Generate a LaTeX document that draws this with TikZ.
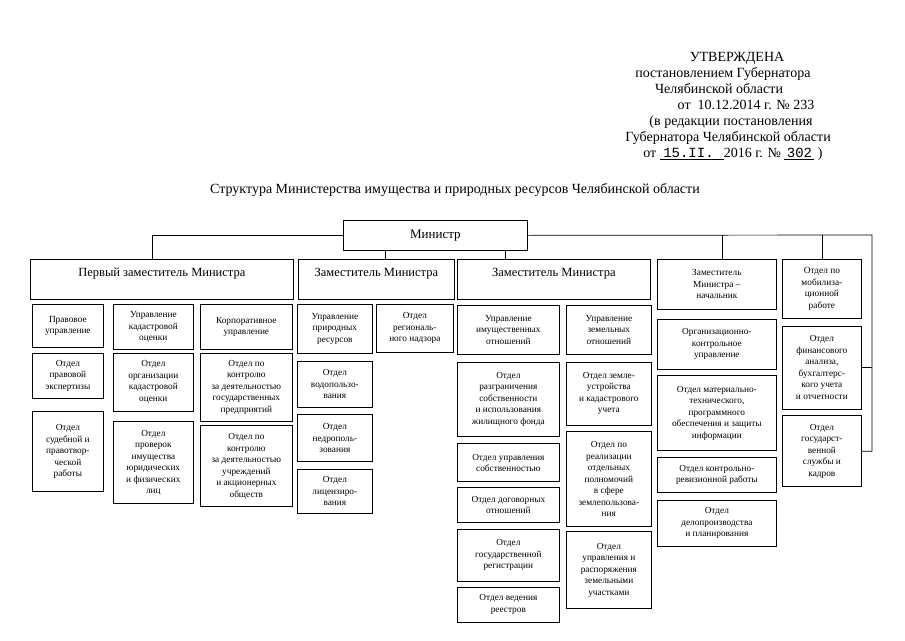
\documentclass[tikz,border=0pt]{standalone}
\usepackage{fontspec}
\setmainfont{Liberation Serif}
\newfontfamily\hand{Liberation Mono}
\usetikzlibrary{positioning}

\begin{document}
\begin{tikzpicture}[x=1pt,y=-1pt,
  b/.style={draw,line width=0.7pt,inner sep=1pt,align=center},
  dep/.style={b,font=\fontsize{12.5}{14}\selectfont,anchor=north west,
              minimum height=40pt,inner sep=2pt,text height=15pt,text depth=21pt},
  s/.style={b,font=\fontsize{9.3}{11.5}\selectfont},
  first/.style={s,anchor=north west},
  ln/.style={line width=0.7pt},
  hd/.style={font=\fontsize{14}{16}\selectfont,inner sep=0pt,text height=10pt,text depth=3pt},
]
\useasboundingbox (0,0) rectangle (905,640);

% header
\node[hd] (utv) at (737,58) {УТВЕРЖДЕНА};
\node[hd] (post) at (723,74) {постановлением Губернатора};
\node[hd] (obl) at (719,90) {Челябинской области};
\node[hd] (ot1) at (746,106) {от\ \ 10.12.2014 г. № 233};
\node[hd] (red) at (731,122) {(в редакции постановления};
\node[hd] (gub) at (728,138) {Губернатора Челябинской области};
\node[hd] (ot2) at (733,154)
  {от \underline{\makebox[64pt][l]{\ {\hand 15.II.}}}2016 г. № \underline{\makebox[30pt]{\hand 302}} )};
\node[hd] (title) at (455,190)
  {Структура Министерства имущества и природных ресурсов Челябинской области};

% minister and deputies
\node[b,font=\fontsize{13}{15}\selectfont,anchor=north west,minimum width=184pt,
      minimum height=30pt] (minister) at (343,220) {Министр};
\node[dep,minimum width=263pt] (dep1) at (30,259) {Первый заместитель Министра};
\node[dep,minimum width=156pt] (dep2) at (298,259) {Заместитель Министра};
\node[dep,minimum width=193pt] (dep3) at (457,259) {Заместитель Министра};
\node[first,minimum width=119pt,minimum height=50pt] (dep4) at (657,259)
  {Заместитель\\Министра –\\начальник};
\node[first,minimum width=79pt,minimum height=59pt] (mob) at (782,259)
  {Отдел по\\мобилиза-\\ционной\\работе};

% first deputy
\node[first,minimum width=71pt,minimum height=43pt] (pravo) at (32,304) {Правовое\\управление};
\node[s,below=5pt of pravo,minimum width=71pt,minimum height=45pt] (expert)
  {Отдел\\правовой\\экспертизы};
\node[s,below=13pt of expert,minimum width=71pt,minimum height=80pt] (sud)
  {Отдел\\судебной и\\правотвор-\\ческой\\работы};

\node[first,minimum width=80pt,minimum height=45pt] (kadastr) at (113,304)
  {Управление\\кадастровой\\оценки};
\node[s,below=3pt of kadastr,minimum width=80pt,minimum height=58pt] (orgkad)
  {Отдел\\организации\\кадастровой\\оценки};
\node[s,below=10pt of orgkad,minimum width=80pt,minimum height=82pt] (prov)
  {Отдел\\проверок\\имущества\\юридических\\и физических\\лиц};

\node[first,minimum width=92pt,minimum height=45pt] (korp) at (200,304)
  {Корпоративное\\управление};
\node[s,below=3pt of korp,minimum width=92pt,minimum height=68pt] (gospred)
  {Отдел по\\контролю\\за деятельностью\\государственных\\предприятий};
\node[s,below=4pt of gospred,minimum width=92pt,minimum height=81pt] (uchr)
  {Отдел по\\контролю\\за деятельностью\\учреждений\\и акционерных\\обществ};

% deputy 2
\node[first,minimum width=75pt,minimum height=49pt] (prir) at (297,304)
  {Управление\\природных\\ресурсов};
\node[s,below=7pt of prir,minimum width=75pt,minimum height=46pt] (voda)
  {Отдел\\водопользо-\\вания};
\node[s,below=7pt of voda,minimum width=75pt,minimum height=47pt] (nedra)
  {Отдел\\недрополь-\\зования};
\node[s,below=7pt of nedra,minimum width=75pt,minimum height=44pt] (lic)
  {Отдел\\лицензиро-\\вания};
\node[first,minimum width=77pt,minimum height=48pt] (nadzor) at (376,304)
  {Отдел\\региональ-\\ного надзора};

% deputy 3
\node[first,minimum width=102pt,minimum height=49pt] (imush) at (457,305)
  {Управление\\имущественных\\отношений};
\node[s,below=7pt of imush,minimum width=102pt,minimum height=74pt] (razgr)
  {Отдел\\разграничения\\собственности\\и использования\\жилищного фонда};
\node[s,below=7pt of razgr,minimum width=102pt,minimum height=38pt] (sobst)
  {Отдел управления\\собственностью};
\node[s,below=5pt of sobst,minimum width=102pt,minimum height=35pt] (dogov)
  {Отдел договорных\\отношений};
\node[s,below=6pt of dogov,minimum width=102pt,minimum height=52pt] (reg)
  {Отдел\\государственной\\регистрации};
\node[s,below=5pt of reg,minimum width=102pt,minimum height=35pt] (reestr)
  {Отдел ведения\\реестров};

\node[first,minimum width=85pt,minimum height=49pt] (zem) at (566,305)
  {Управление\\земельных\\отношений};
\node[s,below=7pt of zem,minimum width=85pt,minimum height=63pt] (zemustr)
  {Отдел земле-\\устройства\\и кадастрового\\учета};
\node[s,below=6pt of zemustr,minimum width=85pt,minimum height=95pt] (polnom)
  {Отдел по\\реализации\\отдельных\\полномочий\\в сфере\\землепользова-\\ния};
\node[s,below=4pt of polnom,minimum width=85pt,minimum height=77pt] (uchast)
  {Отдел\\управления и\\распоряжения\\земельными\\участками};

% deputy 4
\node[s,below=9pt of dep4,minimum width=119pt,minimum height=50pt] (orgkontr)
  {Организационно-\\контрольное\\управление};
\node[s,below=6pt of orgkontr,minimum width=119pt,minimum height=75pt] (mat)
  {Отдел материально-\\технического,\\программного\\обеспечения и защиты\\информации};
\node[s,below=6pt of mat,minimum width=119pt,minimum height=35pt] (reviz)
  {Отдел контрольно-\\ревизионной работы};
\node[s,below=7pt of reviz,minimum width=119pt,minimum height=46pt] (delo)
  {Отдел\\делопроизводства\\и планирования};

% right column
\node[s,below=7pt of mob,minimum width=79pt,minimum height=83pt] (fin)
  {Отдел\\финансового\\анализа,\\бухгалтерс-\\кого учета\\и отчетности};
\node[s,below=6pt of fin,minimum width=79pt,minimum height=71pt] (svc)
  {Отдел\\государст-\\венной\\службы и\\кадров};

% links
\coordinate (rt) at (872,235);
\draw[ln] (minister.west) -| ([xshift=-10pt]dep1.north);
\draw[ln] ([xshift=-50pt]minister.south) -- ([xshift=-50pt]minister.south |- dep2.north);
\draw[ln] ([xshift=70pt]minister.south) -- ([xshift=70pt]minister.south |- dep3.north);
\draw[ln] (minister.east) -- (rt) -- (rt |- svc.east) -- (svc.east);
\draw[ln] (fin.east) -- (fin.east -| rt);
\draw[ln] ([xshift=5pt]dep4.north |- rt) -- ([xshift=5pt]dep4.north);
\draw[ln] (mob.north |- rt) -- (mob.north);
\end{tikzpicture}
\end{document}
